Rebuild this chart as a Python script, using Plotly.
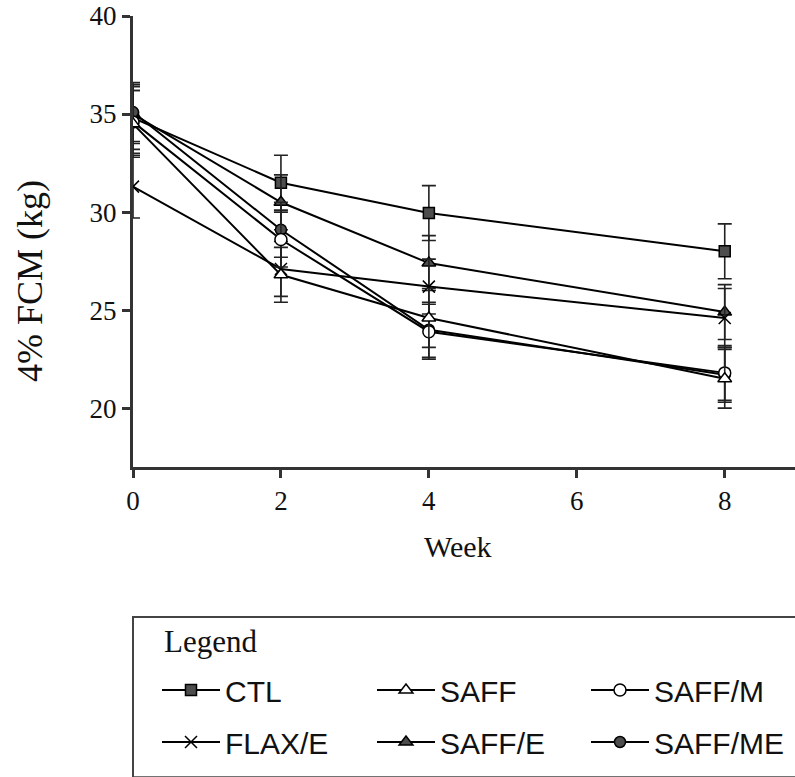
import plotly.graph_objects as go

# Sampling weeks
weeks = [0, 2, 4, 8]

# 4% fat-corrected milk yield (kg/d), group means
ctl = [34.8, 31.5, 29.95, 28.0]
saff = [34.5, 26.8, 24.6, 21.5]
saff_m = [34.6, 28.6, 23.9, 21.8]
flax_e = [31.3, 27.1, 26.2, 24.6]
saff_e = [35.0, 30.5, 27.4, 24.9]
saff_me = [35.1, 29.1, 24.0, 21.7]

# Standard errors of the means
ctl_se = [1.6, 1.4, 1.4, 1.4]
saff_se = [1.7, 1.4, 1.5, 1.5]
saff_m_se = [1.6, 1.4, 1.4, 1.4]
flax_e_se = [1.6, 1.4, 1.4, 1.5]
saff_e_se = [1.5, 1.4, 1.4, 1.4]
saff_me_se = [1.5, 1.4, 1.4, 1.4]

group_names = ["CTL", "SAFF", "SAFF/M", "FLAX/E", "SAFF/E", "SAFF/ME"]
y_ticks = [20, 25, 30, 35, 40]
x_ticks = [0, 2, 4, 6, 8]

fill = "#4d4d4d"
# open symbols are white-filled so they sit on top of the lines
styles = [
    dict(symbol="square", color=fill, size=11),
    dict(symbol="triangle-up", color="white", size=12),
    dict(symbol="circle", color="white", size=12),
    dict(symbol="x-thin-open", color="black", size=12),
    dict(symbol="triangle-up", color=fill, size=12),
    dict(symbol="circle", color=fill, size=11),
]
series = [ctl, saff, saff_m, flax_e, saff_e, saff_me]
errors = [ctl_se, saff_se, saff_m_se, flax_e_se, saff_e_se, saff_me_se]

# drawing order: filled groups underneath, open-symbol groups on top
draw_order = [0, 4, 3, 5, 2, 1]

# Legend key laid out as a 3 x 2 grid, one legend per cell (pixel positions)
col_left = [157, 372, 586]
row_mid = [690, 742]
plot_left, plot_w, plot_bottom, plot_h = 133, 662, 467, 451

legend_ids = ["legend", "legend2", "legend3", "legend4", "legend5", "legend6"]

fig = go.Figure()
for i in draw_order:
    st = styles[i]
    fig.add_trace(go.Scatter(
        x=weeks, y=series[i], name=group_names[i], mode="lines+markers",
        legend=legend_ids[i],
        line=dict(color="black", width=2),
        marker=dict(symbol=st["symbol"], size=st["size"], color=st["color"],
                    line=dict(color="black", width=1.5)),
        error_y=dict(type="data", array=errors[i], visible=True,
                     color="#222222", thickness=1.6, width=7),
    ))

serif = "Liberation Serif, Times New Roman, serif"
sans = "Liberation Sans, Arial, sans-serif"

legend_layout = {}
for i, lg in enumerate(legend_ids):
    r, c = divmod(i, 3)
    legend_layout[lg] = dict(
        orientation="h", xanchor="left", yanchor="middle",
        x=(col_left[c] - plot_left) / plot_w,
        y=-(row_mid[r] - plot_bottom) / plot_h,
        itemwidth=58,
        font=dict(family=sans, size=30, color="#111"),
        bgcolor="rgba(0,0,0,0)",
    )

fig.update_layout(
    width=795, height=777,
    margin=dict(l=plot_left, r=0, t=16, b=310),
    paper_bgcolor="white", plot_bgcolor="white",
    showlegend=True,
    **legend_layout,
    xaxis=dict(
        range=[0, 8.95], tickvals=x_ticks, ticktext=[str(v) for v in x_ticks],
        showgrid=False, zeroline=False,
        showline=True, linecolor="#333", linewidth=3,
        ticks="outside", ticklen=8, tickwidth=3, tickcolor="#333",
        tickfont=dict(family=serif, size=27, color="#111"),
    ),
    yaxis=dict(
        range=[17, 40], tickvals=y_ticks, ticktext=[str(v) for v in y_ticks],
        showgrid=False, zeroline=False,
        showline=True, linecolor="#333", linewidth=3,
        ticks="outside", ticklen=8, tickwidth=3, tickcolor="#333",
        tickfont=dict(family=serif, size=27, color="#111"),
    ),
    annotations=[
        dict(text="Week", xref="paper", yref="paper",
             x=(458 - plot_left) / plot_w, y=-(546 - plot_bottom) / plot_h,
             xanchor="center", yanchor="middle", showarrow=False,
             font=dict(family=serif, size=30, color="#111")),
        dict(text="4% FCM (kg)", xref="paper", yref="paper",
             x=-(plot_left - 30) / plot_w, y=(plot_bottom - 281) / plot_h,
             xanchor="center", yanchor="middle", showarrow=False, textangle=-90,
             font=dict(family=serif, size=36, color="#111")),
        dict(text="Legend", xref="paper", yref="paper",
             x=(162 - plot_left) / plot_w, y=-(641 - plot_bottom) / plot_h,
             xanchor="left", yanchor="middle", showarrow=False,
             font=dict(family=serif, size=31, color="#111")),
    ],
    shapes=[
        dict(type="rect", xref="paper", yref="paper",
             x0=0, x1=1.05, y0=-0.688, y1=-0.3326,
             line=dict(color="#444", width=2)),
    ],
)

fig.write_html("out.html")
